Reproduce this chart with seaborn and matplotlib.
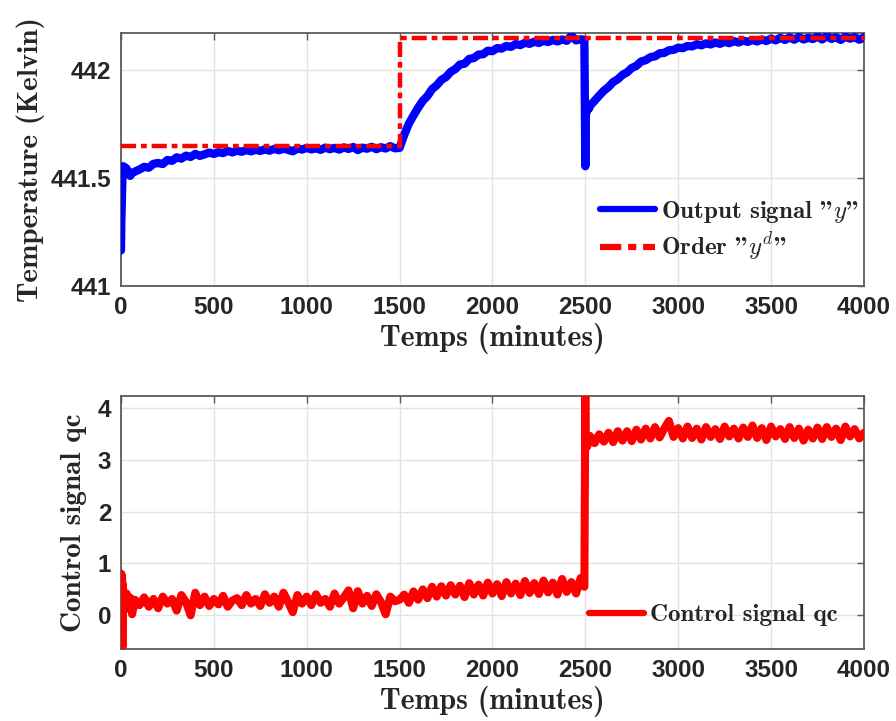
import numpy as np
import pandas as pd
import matplotlib
matplotlib.use("Agg")
import matplotlib.pyplot as plt
import seaborn as sns

# ---------------- data ----------------
t_early = [0, 2, 4, 6, 8, 10, 12, 15, 20, 25, 30, 40, 50, 60, 75]
t_seg1 = list(range(100, 1500, 25))          # 100 .. 1475
t_step1 = [1500]
t_seg2 = list(range(1525, 2500, 25))         # 1525 .. 2475
t_dist = [2495, 2500, 2502, 2505, 2510, 2520]
t_seg3 = list(range(2525, 4001, 25))         # 2525 .. 4000
time = t_early + t_seg1 + t_step1 + t_seg2 + t_dist + t_seg3

y_early = [441.165, 441.30, 441.38, 441.44, 441.50, 441.54, 441.555, 441.53, 441.55,
           441.52, 441.545, 441.52, 441.51, 441.525, 441.53]
y_seg1 = [441.540, 441.552, 441.548, 441.566, 441.570, 441.565, 441.584, 441.580,
          441.596, 441.590, 441.604, 441.598, 441.612, 441.603, 441.610, 441.618,
          441.612, 441.620, 441.616, 441.626, 441.619, 441.627, 441.622, 441.630,
          441.624, 441.631, 441.626, 441.633, 441.627, 441.635, 441.629, 441.636,
          441.631, 441.624, 441.637, 441.632, 441.640, 441.633, 441.638, 441.631,
          441.641, 441.634, 441.640, 441.632, 441.642, 441.635, 441.644, 441.630,
          441.641, 441.636, 441.645, 441.634, 441.643, 441.637, 441.648, 441.638]
y_step1 = [441.640]
y_seg2 = [441.700, 441.752, 441.790, 441.826, 441.858, 441.880, 441.912, 441.930,
          441.955, 441.968, 441.992, 442.005, 442.026, 442.030, 442.052, 442.056,
          442.072, 442.074, 442.090, 442.088, 442.102, 442.100, 442.112, 442.108,
          442.121, 442.116, 442.127, 442.122, 442.132, 442.126, 442.136, 442.130,
          442.140, 442.133, 442.142, 442.136, 442.160, 442.138, 442.143]
y_dist = [442.140, 441.555, 441.785, 441.800, 441.815, 441.822]
y_seg3 = [441.835, 441.858, 441.882, 441.905, 441.922, 441.945, 441.958, 441.978,
          441.990, 442.010, 442.020, 442.040, 442.046, 442.060, 442.064, 442.078,
          442.080, 442.092, 442.094, 442.104, 442.102, 442.112, 442.110, 442.120,
          442.115, 442.124, 442.119, 442.128, 442.122, 442.131, 442.125, 442.134,
          442.128, 442.137, 442.131, 442.140, 442.133, 442.142, 442.135, 442.146,
          442.138, 442.150, 442.140, 442.152, 442.141, 442.154, 442.142, 442.150,
          442.144, 442.156, 442.142, 442.158, 442.145, 442.152, 442.140, 442.155,
          442.146, 442.153, 442.141, 442.152]
output_y = y_early + y_seg1 + y_step1 + y_seg2 + y_dist + y_seg3

order_t = [0, 1500, 1500, 4000]
order_y = [441.65, 441.65, 442.15, 442.15]

q_early = [0.30, 0.80, 0.20, 0.75, -0.62, 0.60, 0.45, 0.30, 0.35, 0.12, 0.42, 0.22,
           0.34, 0.02, 0.30]
q_seg1 = [0.195, 0.345, 0.165, 0.315, 0.135, 0.36, 0.225, 0.315, 0.09, 0.39, 0.255,
          0.0, 0.435, 0.195, 0.36, 0.18, 0.315, 0.21, 0.375, 0.165, 0.285, 0.33,
          0.195, 0.39, 0.225, 0.315, 0.18, 0.405, 0.24, 0.36, 0.165, 0.435, 0.255,
          0.06, 0.39, 0.225, 0.36, 0.195, 0.405, 0.24, 0.315, 0.165, 0.42, 0.225,
          0.345, 0.48, 0.135, 0.465, 0.225, 0.375, 0.18, 0.405, 0.255, 0.02, 0.36,
          0.27]
q_step1 = [0.30]
q_seg2 = [0.40, 0.24, 0.46, 0.30, 0.50, 0.33, 0.55, 0.36, 0.56, 0.38, 0.58, 0.40,
          0.57, 0.35, 0.62, 0.40, 0.59, 0.38, 0.63, 0.42, 0.60, 0.37, 0.64, 0.42,
          0.61, 0.39, 0.66, 0.43, 0.62, 0.41, 0.67, 0.44, 0.63, 0.40, 0.70, 0.45,
          0.64, 0.42, 0.72]
q_dist = [0.55, 4.23, 3.30, 3.35, 3.25, 3.40]
q_seg3 = [3.46, 3.32, 3.49, 3.35, 3.52, 3.34, 3.55, 3.37, 3.55, 3.36, 3.58, 3.39,
          3.60, 3.41, 3.63, 3.43, 3.60, 3.75, 3.44, 3.61, 3.41, 3.64, 3.42, 3.60,
          3.39, 3.63, 3.44, 3.59, 3.40, 3.64, 3.45, 3.60, 3.41, 3.62, 3.44, 3.66,
          3.42, 3.61, 3.38, 3.64, 3.45, 3.59, 3.40, 3.63, 3.42, 3.60, 3.37, 3.58,
          3.41, 3.62, 3.40, 3.63, 3.44, 3.60, 3.38, 3.64, 3.45, 3.59, 3.41, 3.52]
control_qc = q_early + q_seg1 + q_step1 + q_seg2 + q_dist + q_seg3

x_ticks = [0, 500, 1000, 1500, 2000, 2500, 3000, 3500, 4000]
y1_ticks = [441, 441.5, 442]
y1_labels = ["441", "441.5", "442"]
y2_ticks = [0, 1, 2, 3, 4]

df_out = pd.DataFrame({"t": time, "v": output_y})
df_ord = pd.DataFrame({"t": order_t, "v": order_y})
df_q = pd.DataFrame({"t": time, "v": control_qc})

# ---------------- style ----------------
sns.set_style("white")
plt.rcParams["mathtext.fontset"] = "cm"
plt.rcParams["font.family"] = ["Liberation Sans", "DejaVu Sans"]

LABEL_FONT = ["cmb10", "DejaVu Serif"]
TICK_COLOR = "#262626"
SPINE_COLOR = "#5a5a5a"
GRID_COLOR = "#e3e3e3"

fig = plt.figure(figsize=(8.96, 7.21), dpi=100)
ax1 = fig.add_axes([0.1350, 0.6033, 0.8292, 0.3509])
ax2 = fig.add_axes([0.1350, 0.0999, 0.8292, 0.3509])

sns.lineplot(data=df_out, x="t", y="v", ax=ax1, color="#0000ff", lw=6.0,
             estimator=None, sort=False, label='Output signal "$y$"', zorder=3)
sns.lineplot(data=df_ord, x="t", y="v", ax=ax1, color="#ff0000", lw=3.2,
             estimator=None, sort=False, label='Order "$y^d$"', zorder=4,
             dashes=False)
ax1.lines[-1].set_dashes((3.4, 1.1, 1.3, 1.1))

sns.lineplot(data=df_q, x="t", y="v", ax=ax2, color="#ff0000", lw=5.8,
             estimator=None, sort=False, label="Control signal qc", zorder=3)

for ax in (ax1, ax2):
    ax.set_xlim(0, 4000)
    ax.set_xticks(x_ticks)
    ax.grid(True, color=GRID_COLOR, lw=1.0, zorder=0)
    ax.set_axisbelow(True)
    for s in ax.spines.values():
        s.set_color(SPINE_COLOR)
        s.set_linewidth(1.3)
        s.set_visible(True)
    ax.tick_params(axis="both", which="both", direction="in", length=5,
                   width=1.0, color=SPINE_COLOR, top=True, right=True,
                   labelsize=17.5, labelcolor=TICK_COLOR, pad=7)
    for lab in ax.get_xticklabels() + ax.get_yticklabels():
        lab.set_fontweight("bold")
    ax.set_xlabel("Temps (minutes)", fontsize=21.5, family=LABEL_FONT,
                  color=TICK_COLOR, labelpad=3)

ax1.set_ylim(441, 442.172)
ax1.set_yticks(y1_ticks)
ax1.set_yticklabels(y1_labels, fontweight="bold")
ax1.set_ylabel("Temperature (Kelvin)", fontsize=21, family=LABEL_FONT,
               color=TICK_COLOR, labelpad=4)

ax2.set_ylim(-0.65, 4.23)
ax2.set_yticks(y2_ticks)
ax2.set_yticklabels([str(v) for v in y2_ticks], fontweight="bold")
ax2.set_ylabel("Control signal qc", fontsize=21, family=LABEL_FONT,
               color=TICK_COLOR, labelpad=8)

leg1 = ax1.legend(loc="center left", bbox_to_anchor=(0.645, 0.2175),
                  frameon=False, borderpad=0, borderaxespad=0,
                  handlelength=2.2, handletextpad=0.25, labelspacing=0.25,
                  prop={"family": LABEL_FONT, "size": 18})
leg2 = ax2.legend(loc="center left", bbox_to_anchor=(0.630, 0.134),
                  frameon=False, borderpad=0, borderaxespad=0,
                  handlelength=2.2, handletextpad=0.25,
                  prop={"family": LABEL_FONT, "size": 18})
for leg in (leg1, leg2):
    for txt in leg.get_texts():
        txt.set_color(TICK_COLOR)
    for h in leg.get_lines():
        h.set_linewidth(4.5)

fig.savefig("out.png", dpi=100)
